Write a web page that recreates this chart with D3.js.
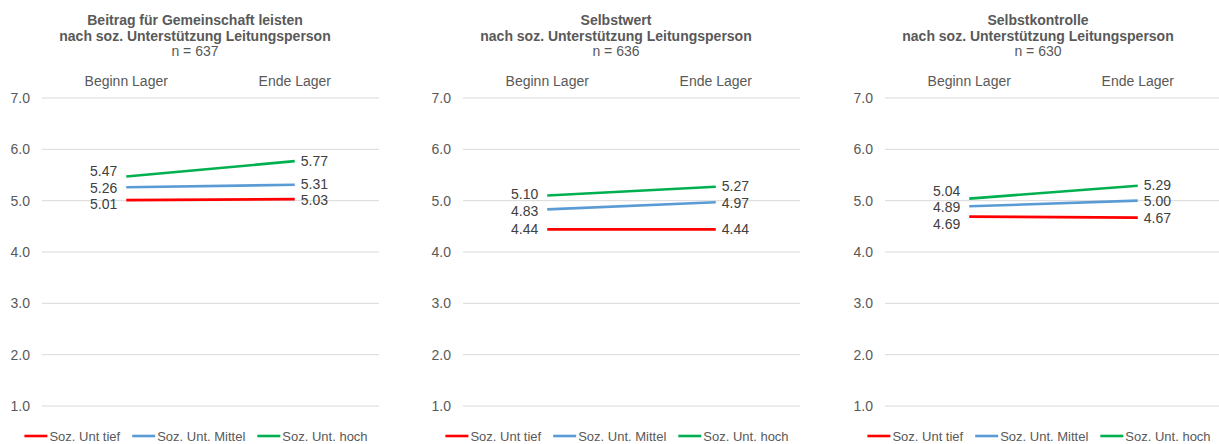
<!DOCTYPE html>
<html>
<head>
  <meta charset="utf-8">
  <script src="https://cdn.jsdelivr.net/npm/d3@7"></script>
  <style>
    body { margin: 0; background: #fff; }
    text { font-family: "Liberation Sans", Arial, sans-serif; }
  </style>
</head>
<body>
<script>
  // chart data
  var titles = ["Beitrag für Gemeinschaft leisten", "Selbstwert", "Selbstkontrolle"];
  var subtitle = "nach soz. Unterstützung Leitungsperson";
  var nValues = [637, 636, 630];
  var categories = ["Beginn Lager", "Ende Lager"];
  var seriesNames = ["Soz. Unt tief", "Soz. Unt. Mittel", "Soz. Unt. hoch"];
  var seriesColors = ["#ff0000", "#5b9bd5", "#00b050"];
  var yTicks = [1, 2, 3, 4, 5, 6, 7];

  // one entry per panel: [Beginn, Ende]
  var tiefValues   = [[5.01, 5.03], [4.44, 4.44], [4.69, 4.67]];
  var mittelValues = [[5.26, 5.31], [4.83, 4.97], [4.89, 5.00]];
  var hochValues   = [[5.47, 5.77], [5.10, 5.27], [5.04, 5.29]];
  var allValues = [tiefValues, mittelValues, hochValues];

  var W = 1219, H = 444;
  var panelOffsets = [0, 421, 843];
  var plotLeft = 42, plotRight = 379;

  var svg = d3.select("body").append("svg")
      .attr("width", W)
      .attr("height", H);

  var x = d3.scaleBand().domain(categories).range([plotLeft, plotRight]).padding(0);
  var y = d3.scaleLinear().domain([1, 7]).range([406, 98]);

  // push labels apart so they don't overlap, keep groups centred
  function spread(ys, gap) {
    var items = ys.map(function(v, i) { return { i: i, y: v }; })
                  .sort(function(a, b) { return a.y - b.y; });
    var groups = items.map(function(d) { return { items: [d], mean: d.y }; });
    var merged = true;
    while (merged) {
      merged = false;
      for (var k = 0; k < groups.length - 1; k++) {
        var a = groups[k], b = groups[k + 1];
        var aBottom = a.mean + (a.items.length - 1) * gap / 2;
        var bTop = b.mean - (b.items.length - 1) * gap / 2;
        if (bTop - aBottom < gap) {
          var all = a.items.concat(b.items);
          groups.splice(k, 2, { items: all, mean: d3.mean(all, function(d) { return d.y; }) });
          merged = true;
          break;
        }
      }
    }
    var out = [];
    groups.forEach(function(g) {
      var start = g.mean - (g.items.length - 1) * gap / 2;
      g.items.forEach(function(d, j) { out[d.i] = start + j * gap; });
    });
    return out;
  }

  panelOffsets.forEach(function(off, p) {
    var g = svg.append("g").attr("transform", "translate(" + off + ",0)");

    // titles
    var tcx = 195;
    g.append("text").attr("x", tcx).attr("y", 25).attr("text-anchor", "middle")
      .style("font-size", "14px").style("font-weight", "bold").style("fill", "#595959")
      .text(titles[p]);
    g.append("text").attr("x", tcx).attr("y", 41).attr("text-anchor", "middle")
      .style("font-size", "14px").style("font-weight", "bold").style("fill", "#595959")
      .text(subtitle);
    g.append("text").attr("x", tcx).attr("y", 56).attr("text-anchor", "middle")
      .style("font-size", "14px").style("fill", "#595959")
      .text("n = " + nValues[p]);

    // gridlines + y labels
    g.selectAll(".grid").data(yTicks).enter().append("line")
      .attr("x1", plotLeft).attr("x2", plotRight)
      .attr("y1", function(d) { return y(d); }).attr("y2", function(d) { return y(d); })
      .style("stroke", "#d9d9d9").style("stroke-width", 1);
    g.selectAll(".ylab").data(yTicks).enter().append("text")
      .attr("x", 30).attr("y", function(d) { return y(d); }).attr("dy", "0.35em")
      .attr("text-anchor", "end")
      .style("font-size", "14px").style("fill", "#595959")
      .text(function(d) { return d3.format(".1f")(d); });

    // category labels on top
    g.selectAll(".cat").data(categories).enter().append("text")
      .attr("x", function(d) { return x(d) + x.bandwidth() / 2; })
      .attr("y", 81).attr("dy", "0.35em")
      .attr("text-anchor", "middle")
      .style("font-size", "14px").style("fill", "#595959")
      .text(function(d) { return d; });

    // lines
    var line = d3.line()
      .x(function(d, i) { return x(categories[i]) + x.bandwidth() / 2; })
      .y(function(d) { return y(d); });
    allValues.forEach(function(vals, s) {
      g.append("path").datum(vals[p])
        .attr("d", line)
        .style("fill", "none")
        .style("stroke", seriesColors[s])
        .style("stroke-width", 2.6);
    });

    // data labels
    categories.forEach(function(cat, c) {
      var vals = allValues.map(function(v) { return v[p][c]; });
      var ys = spread(vals.map(function(v) { return y(v); }), 16.5);
      var cx = x(cat) + x.bandwidth() / 2;
      vals.forEach(function(v, s) {
        g.append("text")
          .attr("x", c === 0 ? cx - 9 : cx + 6)
          .attr("y", ys[s]).attr("dy", "0.35em")
          .attr("text-anchor", c === 0 ? "end" : "start")
          .style("font-size", "14px").style("fill", "#404040")
          .text(d3.format(".2f")(v));
      });
    });

    // legend
    var leg = g.append("g").attr("class", "legend");
    var lx = 0;
    seriesNames.forEach(function(name, s) {
      var it = leg.append("g").attr("transform", "translate(" + lx + ",0)");
      it.append("line").attr("x1", 0).attr("x2", 23).attr("y1", 0).attr("y2", 0)
        .style("stroke", seriesColors[s]).style("stroke-width", 2.6);
      var t = it.append("text").attr("x", 25).attr("y", 0).attr("dy", "0.35em")
        .style("font-size", "13px").style("fill", "#595959").text(name);
      lx += 25 + t.node().getComputedTextLength() + 12;
    });
    var legW = lx - 12;
    leg.attr("transform", "translate(" + (196 - legW / 2) + ",436)");
  });
</script>
</body>
</html>
